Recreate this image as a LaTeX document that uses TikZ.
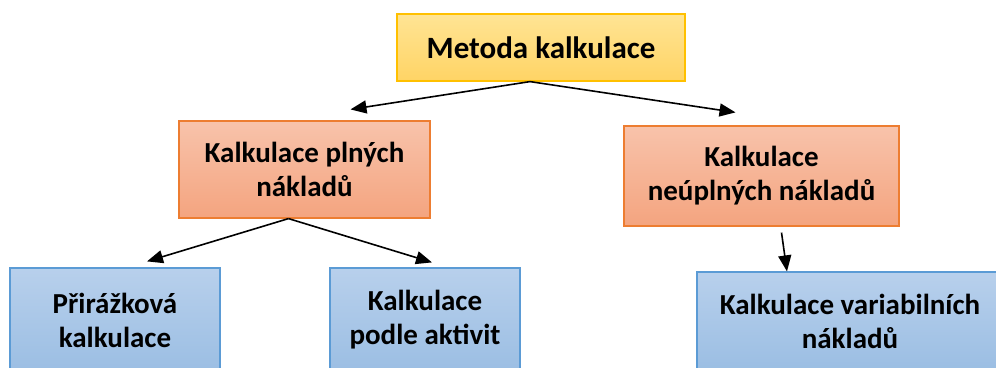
\documentclass[tikz,border=0pt]{standalone}
\usepackage{fontspec}
\setmainfont{Carlito}
\usetikzlibrary{arrows.meta}
\definecolor{yelTop}{HTML}{FFE494}
\definecolor{yelBot}{HTML}{FFD465}
\definecolor{yelLine}{HTML}{FFC000}
\definecolor{oraTop}{HTML}{F8C3AB}
\definecolor{oraBot}{HTML}{F4A47F}
\definecolor{oraLine}{HTML}{ED7D31}
\definecolor{bluTop}{HTML}{B8D0EC}
\definecolor{bluBot}{HTML}{9BBEE3}
\definecolor{bluLine}{HTML}{5B9BD5}
\tikzset{
  box/.style={rectangle, line width=1.2pt, align=center, inner sep=2pt,
    font=\fontsize{29}{34}\selectfont\bfseries},
  rootbox/.style={box, draw=yelLine, top color=yelTop, bottom color=yelBot},
  midbox/.style={box, draw=oraLine, top color=oraTop, bottom color=oraBot},
  leafbox/.style={box, draw=bluLine, top color=bluTop, bottom color=bluBot},
  arr/.style={line width=1.6pt, -{Triangle[length=16pt,width=13pt]}}
}
\begin{document}
\begin{tikzpicture}[x=1pt,y=-1pt]
  \useasboundingbox (0,0) rectangle (996,367);

  % first level
  \node[rootbox, minimum width=288pt, minimum height=67pt,
    font=\fontsize{31}{34}\selectfont\bfseries] (metoda) at (541,47.5) {Metoda kalkulace};

  % second level
  \node[midbox, minimum width=251pt, minimum height=97pt] (plne) at (304.5,169.5) {Kalkulace plných\\nákladů};
  \node[midbox, minimum width=275pt, minimum height=100pt] (neuplne) at (761.5,176) {Kalkulace\\neúplných nákladů};

  % third level
  \node[leafbox, minimum width=210pt, minimum height=104pt] (prirazka) at (115,320) {Přirážková\\kalkulace};
  \node[leafbox, minimum width=190pt, minimum height=104pt] (aktivity) at (425,320) {Kalkulace\\podle aktivit};
  \node[leafbox, minimum width=306pt, minimum height=98pt] (variabilni) at (850,321) {Kalkulace variabilních\\nákladů};

  \draw[arr] ([xshift=-11pt]metoda.south) -- ([xshift=46pt,yshift=11pt]plne.north);
  \draw[arr] ([xshift=-11pt]metoda.south) -- ([xshift=-26pt,yshift=13pt]neuplne.north);
  \draw[arr] ([xshift=-16pt]plne.south) -- ([xshift=32pt,yshift=6pt]prirazka.north);
  \draw[arr] ([xshift=-16pt]plne.south) -- ([xshift=7pt,yshift=5pt]aktivity.north);
  \draw[arr] ([xshift=20pt,yshift=-6pt]neuplne.south) -- ([xshift=-63pt]variabilni.north);
\end{tikzpicture}
\end{document}
